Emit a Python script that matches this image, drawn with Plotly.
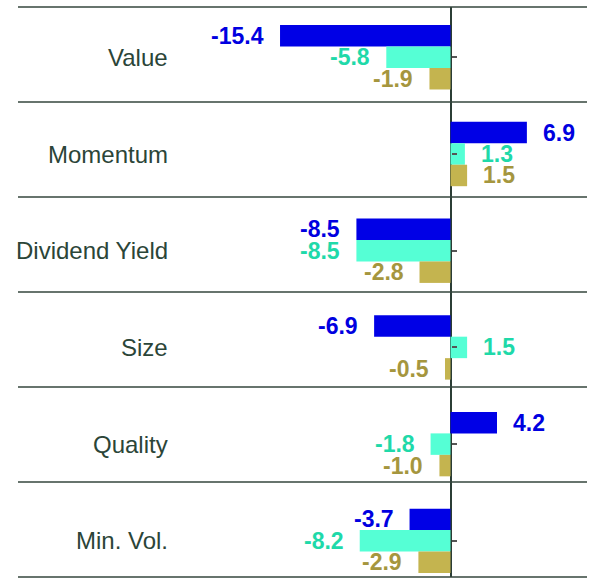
import plotly.graph_objects as go

categories = ["Value", "Momentum", "Dividend Yield", "Size", "Quality", "Min. Vol."]
series_names = ["Series A", "Series B", "Series C"]
series_a = [-15.4, 6.9, -8.5, -6.9, 4.2, -3.7]
series_b = [-5.8, 1.3, -8.5, 1.5, -1.8, -8.2]
series_c = [-1.9, 1.5, -2.8, -0.5, -1.0, -2.9]

bar_colors = ["#0000e6", "#55ffd5", "#c4b44f"]
text_colors = ["#0000e0", "#1fd9a9", "#a5963e"]
offsets = [-0.222, 0.0, 0.222]
BAR_W = 0.222
LABEL_X = -25.3
FONT = "Liberation Sans, Arial, sans-serif"

fig = go.Figure()
idx = list(range(len(categories)))
annotations = []
for name, vals, bc, tc, off in zip(series_names, [series_a, series_b, series_c],
                                   bar_colors, text_colors, offsets):
    ys = [i + off for i in idx]
    fig.add_trace(go.Bar(x=vals, y=ys, orientation="h", width=BAR_W,
                         marker=dict(color=bc, line=dict(width=0)),
                         name=name, showlegend=False, hoverinfo="x"))
    for v, y in zip(vals, ys):
        annotations.append(dict(
            x=v, y=y, xref="x", yref="y", text=f"<b>{v:.1f}</b>",
            showarrow=False, xanchor="right" if v < 0 else "left",
            xshift=-14 if v < 0 else 14, yanchor="middle",
            font=dict(family=FONT, size=23, color=tc)))

for i, c in enumerate(categories):
    annotations.append(dict(
        x=LABEL_X, y=i, xref="x", yref="y", text=c, showarrow=False,
        xanchor="right", yanchor="middle",
        font=dict(family=FONT, size=24, color="#2b4538")))

shapes = []
for k in range(len(categories) + 1):
    yy = k / len(categories)
    shapes.append(dict(type="line", xref="x domain", yref="y domain",
                       x0=0, x1=1, y0=yy, y1=yy,
                       line=dict(color="#34463d", width=1.5)))

xmin, xmax = -39.07, 12.33
fig.update_layout(
    width=590, height=579,
    margin=dict(l=18, r=3, t=7, b=2),
    paper_bgcolor="white", plot_bgcolor="white",
    barmode="overlay",
    annotations=annotations, shapes=shapes,
    xaxis=dict(range=[xmin, xmax], showgrid=False, showticklabels=False,
               ticks="", zeroline=True, zerolinecolor="#2b3d35",
               zerolinewidth=1.5, fixedrange=True),
    yaxis=dict(range=[5.374, -0.520], tickvals=idx, showticklabels=False,
               ticks="inside", ticklen=5, tickcolor="#555555", tickwidth=1.5,
               showgrid=False, zeroline=False, showline=False,
               anchor="free", position=(0 - xmin) / (xmax - xmin),
               fixedrange=True),
)

fig.write_html("out.html",
               config={"displayModeBar": False},
               post_script="document.body.style.margin='0px';document.body.style.overflow='hidden';")
